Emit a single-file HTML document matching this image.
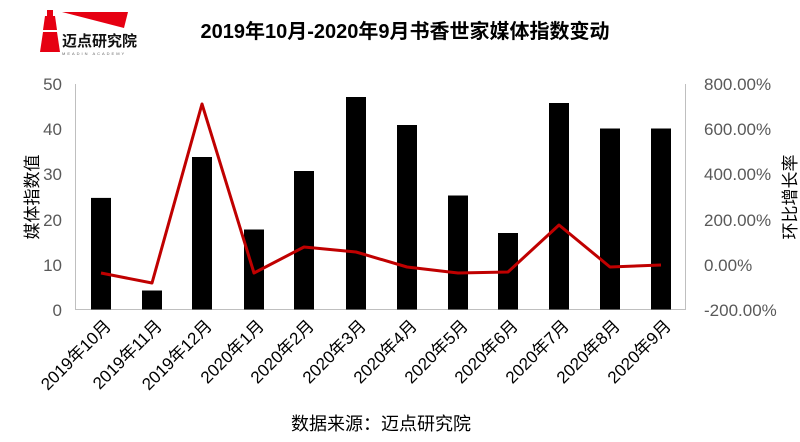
<!DOCTYPE html>
<html><head><meta charset="utf-8"><style>
body{margin:0;background:#fff;}
svg{display:block;font-family:"Liberation Sans","Noto Sans CJK SC",sans-serif;}
</style></head><body>
<svg width="800" height="442" viewBox="0 0 800 442">
<!-- logo -->
<polygon points="62,12 128,12 124,28" fill="#e60012"/>
<rect x="47" y="10" width="6" height="6" fill="#e60012"/>
<polygon points="45,16 55,16 57,30 43,30" fill="#e60012"/>
<polygon points="43,32 57,32 60,52 40,52" fill="#e60012"/>
<text x="62" y="46" font-size="15" font-weight="bold" fill="#111">迈点研究院</text>
<text x="62" y="55" font-size="4" fill="#666" letter-spacing="2">MEADIN ACADEMY</text>
<text x="405" y="38" font-size="20" font-weight="bold" text-anchor="middle" fill="#000">2019年10月-2020年9月书香世家媒体指数变动</text>
<!-- axes -->
<line x1="75" y1="309.5" x2="685" y2="309.5" stroke="#bfbfbf"/>
<line x1="75.5" y1="84" x2="75.5" y2="310" stroke="#bfbfbf"/>
<line x1="685.5" y1="84" x2="685.5" y2="310" stroke="#bfbfbf"/>
<g font-size="17" fill="#595959" text-anchor="end">
<text x="62" y="316">0</text><text x="62" y="271">10</text><text x="62" y="226">20</text><text x="62" y="180">30</text><text x="62" y="135">40</text><text x="62" y="90">50</text>
</g>
<g font-size="17" fill="#595959" text-anchor="start">
<text x="704" y="90">800.00%</text><text x="704" y="135">600.00%</text><text x="704" y="180">400.00%</text><text x="704" y="226">200.00%</text><text x="704" y="271">0.00%</text><text x="704" y="316">-200.00%</text>
</g>
<text transform="translate(38,197) rotate(-90)" font-size="17" text-anchor="middle" fill="#000">媒体指数值</text>
<text transform="translate(796,197) rotate(-90)" font-size="17" text-anchor="middle" fill="#000">环比增长率</text>
<!-- bars -->
<g fill="#000">
<rect x="91" y="197.9" width="20" height="111.6"/>
<rect x="142" y="290.5" width="20" height="19"/>
<rect x="192" y="157" width="20" height="152.5"/>
<rect x="244" y="229.5" width="20" height="80"/>
<rect x="294" y="171" width="20" height="138.5"/>
<rect x="346" y="97" width="20" height="212.5"/>
<rect x="397" y="125" width="20" height="184.5"/>
<rect x="448" y="195.5" width="20" height="114"/>
<rect x="498" y="233" width="20" height="76.5"/>
<rect x="549" y="103" width="20" height="206.5"/>
<rect x="600" y="128.5" width="20" height="181"/>
<rect x="651" y="128.5" width="20" height="181"/>
</g>
<polyline fill="none" stroke="#c00000" stroke-width="3" stroke-linejoin="round" points="101,273 152,283 202,104 254,273 304,247 356,252 407,267 458,273 508,272 559,225 610,267 661,265"/>
<g font-size="17" fill="#000" text-anchor="end">
<text transform="translate(112,327) rotate(-45)">2019年10月</text>
<text transform="translate(163,327) rotate(-45)">2019年11月</text>
<text transform="translate(213,327) rotate(-45)">2019年12月</text>
<text transform="translate(265,327) rotate(-45)">2020年1月</text>
<text transform="translate(315,327) rotate(-45)">2020年2月</text>
<text transform="translate(367,327) rotate(-45)">2020年3月</text>
<text transform="translate(418,327) rotate(-45)">2020年4月</text>
<text transform="translate(469,327) rotate(-45)">2020年5月</text>
<text transform="translate(519,327) rotate(-45)">2020年6月</text>
<text transform="translate(570,327) rotate(-45)">2020年7月</text>
<text transform="translate(621,327) rotate(-45)">2020年8月</text>
<text transform="translate(672,327) rotate(-45)">2020年9月</text>
</g>
<text x="381" y="430" font-size="18" text-anchor="middle" fill="#000">数据来源：迈点研究院</text>
</svg>
</body></html>
